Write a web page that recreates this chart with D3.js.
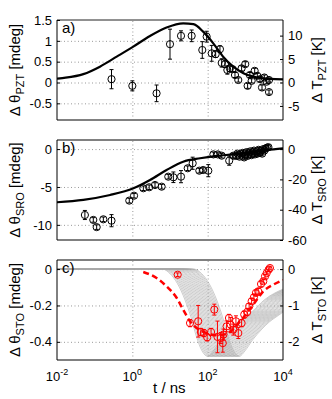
<!DOCTYPE html>
<html>
<head>
<meta charset="utf-8">
<script src="https://cdn.jsdelivr.net/npm/d3@7"></script>
<style>
body { margin: 0; background: #fff; }
text { font-family: "Liberation Sans", Arial, sans-serif; fill: #000; }
</style>
</head>
<body>
<div class="svg-target"></div>
<script>
// ---- data: panel a (PZT) ----
const pztT   = [0.28, 1.0, 4.4, 10, 19.6, 37.6, 72, 94, 128, 163, 212, 236, 288, 333, 390, 458, 531, 650, 796, 995, 1150, 1320, 1470, 1770, 2080, 2450, 2770, 3190, 3690, 4250, 4250];
const pztVal = [0.08, -0.08, -0.26, 0.92, 1.12, 1.12, 0.78, 1.1, 0.7, 0.68, 0.8, 0.47, 0.44, 0.3, 0.34, 0.32, 0.18, 0.06, 0.34, 0.44, -0.08, 0.18, 0.04, 0.28, 0.16, 0.08, -0.12, 0.12, 0.02, 0.06, -0.23];
const pztErr = [0.23, 0.12, 0.2, 0.36, 0.12, 0.14, 0.2, 0.13, 0.19, 0.08, 0.08, 0.1, 0.08, 0.1, 0.08, 0.06, 0.06, 0.05, 0.06, 0.06, 0.06, 0.06, 0.05, 0.06, 0.06, 0.06, 0.06, 0.06, 0.05, 0.05, 0.05];
const pztFitT   = [0.01, 0.012, 0.05, 0.138, 0.385, 1.06, 2.95, 8.1, 22.4, 41.7, 75.9, 141, 257, 479, 891, 1995, 4467, 10000];
const pztFitVal = [0.09, 0.10, 0.2, 0.38, 0.62, 0.86, 1.116, 1.32, 1.42, 1.40, 1.22, 0.94, 0.62, 0.38, 0.22, 0.125, 0.085, 0.077];

// ---- data: panel b (SRO) ----
const sroT   = [0.055, 0.092, 0.113, 0.17, 0.28, 0.83, 1.11, 1.96, 2.8, 4.0, 6.0, 9.0, 12.3, 19.6, 29.5, 40, 60, 76, 104, 142, 185, 236, 373, 478,
                560, 620, 700, 780, 850, 930, 1000, 1080, 1150, 1250, 1350, 1450, 1550, 1700, 1800, 1950, 2100, 2250, 2400, 2600, 2800, 3000, 3200, 3500, 3800, 4100];
const sroVal = [-8.7, -9.35, -10.3, -9.27, -9.45, -6.8, -6.15, -5.17, -5.04, -4.74, -4.96, -3.64, -3.72, -3.64, -2.53, -1.87, -2.85, -2.76, -2.85, -0.7, -0.7, -0.87, -1.53, -0.87,
                -0.9, -0.6, -1.0, -0.7, -0.5, -1.1, -0.8, -0.4, -0.9, -0.6, -0.3, -0.8, -0.5, -0.2, -0.7, -0.4, -0.6, -0.1, -0.5, -0.3, -0.6, 0.0, -0.2, 0.1, 0.2, 0.25];
const sroErr = [0.6, 0.3, 0.3, 0.3, 0.8, 0.3, 0.3, 0.3, 0.3, 0.3, 0.3, 0.3, 0.7, 0.8, 0.3, 0.8, 0.3, 0.3, 0.8, 0.3, 0.3, 0.3, 0.6, 0.3,
                0.3, 0.3, 0.3, 0.3, 0.3, 0.3, 0.3, 0.3, 0.3, 0.3, 0.3, 0.3, 0.3, 0.3, 0.3, 0.3, 0.3, 0.3, 0.3, 0.3, 0.3, 0.3, 0.3, 0.3, 0.3, 0.3];
const sroFitT   = [0.01, 0.05, 0.257, 1.07, 2.95, 8.1, 22.4, 63, 174, 479, 1318, 3715, 10000];
const sroFitVal = [-7.02, -6.7, -6.06, -5.17, -4.08, -2.76, -1.66, -1.21, -0.9, -0.69, -0.43, -0.12, 0.1];

// ---- data: panel c (STO) ----
const stoT   = [16, 34, 56, 66, 79, 97, 123, 150, 182, 223, 252, 262, 318, 368, 409, 480, 563, 650, 796, 935, 1120, 1260, 1470, 1690, 1910, 2200, 2610, 3000, 3330, 3690, 4170, 4500];
const stoVal = [-0.031, -0.297, -0.287, -0.346, -0.352, -0.375, -0.346, -0.223, -0.373, -0.379, -0.407, -0.36, -0.315, -0.269, -0.306, -0.333, -0.287, -0.352, -0.297, -0.25, -0.236, -0.205, -0.177, -0.155, -0.131, -0.122, -0.082, -0.067, -0.04, -0.022, -0.003, 0.006];
const stoErr = [0.01, 0.02, 0.087, 0.02, 0.02, 0.02, 0.02, 0.03, 0.087, 0.03, 0.05, 0.03, 0.03, 0.02, 0.04, 0.03, 0.03, 0.03, 0.02, 0.02, 0.02, 0.015, 0.015, 0.015, 0.015, 0.015, 0.015, 0.01, 0.01, 0.01, 0.01, 0.01];
const stoFitT   = [1.95, 4.4, 8.1, 15.1, 22.4, 33.9, 51, 93, 174, 316, 724, 1622, 3020, 5500, 10000];
const stoFitVal = [-0.016, -0.049, -0.095, -0.159, -0.223, -0.287, -0.324, -0.352, -0.364, -0.357, -0.287, -0.196, -0.122, -0.086, -0.06];
// grey model curves: one base shape, each curve delayed by a shift (decades)
const modelT   = [0.01, 6.3, 10, 15.8, 25.1, 35.5, 50.1, 70.8, 100, 141, 224, 398, 631, 1000, 1585, 3162, 10000];
const modelVal = [0, 0, -0.025, -0.08, -0.17, -0.26, -0.37, -0.45, -0.48, -0.45, -0.39, -0.33, -0.29, -0.26, -0.23, -0.17, -0.11];
const modelShift = [0, 0.035, 0.07, 0.105, 0.14, 0.175, 0.21, 0.245, 0.28, 0.315, 0.35, 0.385, 0.42, 0.455, 0.49, 0.525, 0.56, 0.595, 0.63, 0.665, 0.7, 0.735, 0.77, 0.805, 0.84];

// ticks
const xTicks = [0.01, 1, 100, 10000];
const xGrid = [1, 100];
const ticksA = [-0.5, 0, 0.5, 1, 1.5], ticksAR = [-5, 0, 5, 10];
const ticksB = [-10, -5, 0], ticksBR = [-60, -40, -20, 0];
const ticksC = [-0.4, -0.2, 0], ticksCR = [-2, -1, 0];

const W = 332, H = 399;
const left = 57, right = 283, panelH = 100;

const svg = d3.select('.svg-target')
    .append('svg')
    .attr('width', W)
    .attr('height', H);

const x = d3.scaleLog().domain([1e-2, 1e4]).range([left, right]);

const panels = [
    { id: 'a', top: 20, domL: [-0.9, 1.5], domR: [-8, 13.33], ticksL: ticksA, ticksR: ticksAR, sub: 'PZT', topColor: '#222', topW: 1 },
    { id: 'b', top: 140, domL: [-12, 1.2], domR: [-60, 6], ticksL: ticksB, ticksR: ticksBR, sub: 'SRO', topColor: '#808080', topW: 2 },
    { id: 'c', top: 260, domL: [-0.5, 0.05], domR: [-2.5, 0.25], ticksL: ticksC, ticksR: ticksCR, sub: 'STO', topColor: '#808080', topW: 2 }
];

// rotated label with a subscript
const yLabel = (g, cx, cy, pre, sub, post) => {
    const t = g.append('text')
        .attr('transform', `translate(${cx},${cy}) rotate(-90)`)
        .attr('text-anchor', 'middle')
        .style('font-size', '15px');
    t.append('tspan').text(pre);
    t.append('tspan').attr('dy', 4).style('font-size', '11px').text(sub);
    t.append('tspan').attr('dy', -4).text(post);
};

panels.forEach(p => {
    const g = svg.append('g');
    const bottom = p.top + panelH;
    const y = d3.scaleLinear().domain(p.domL).range([bottom, p.top]);
    const y2 = d3.scaleLinear().domain(p.domR).range([bottom, p.top]);

    svg.append('clipPath').attr('id', 'clip-' + p.id)
        .append('rect')
        .attr('x', left).attr('y', p.top)
        .attr('width', right - left).attr('height', panelH);

    // grid
    g.append('g')
        .attr('transform', `translate(0,${bottom})`)
        .call(d3.axisBottom(x).tickValues(xGrid).tickSize(-panelH).tickFormat(''))
        .call(s => s.select('.domain').remove());
    g.append('g')
        .attr('transform', `translate(${left},0)`)
        .call(d3.axisLeft(y).tickValues(p.ticksL.filter(v => y(v) > p.top + 1)).tickSize(-(right - left)).tickFormat(''))
        .call(s => s.select('.domain').remove());
    g.selectAll('.tick line')
        .attr('stroke', '#999')
        .attr('stroke-dasharray', '1,2.5');

    const plot = g.append('g').attr('clip-path', `url(#clip-${p.id})`);
    const line = d3.line().x(d => x(d[0])).y(d => y(d[1])).curve(d3.curveMonotoneX);

    let T, V, E, FT, FV, col;
    if (p.id === 'a') { T = pztT; V = pztVal; E = pztErr; FT = pztFitT; FV = pztFitVal; col = '#000'; }
    if (p.id === 'b') { T = sroT; V = sroVal; E = sroErr; FT = sroFitT; FV = sroFitVal; col = '#000'; }
    if (p.id === 'c') { T = stoT; V = stoVal; E = stoErr; FT = stoFitT; FV = stoFitVal; col = '#f00'; }

    if (p.id === 'c') {
        plot.selectAll('.model')
            .data(modelShift)
            .enter()
            .append('path')
                .attr('class', 'model')
                .attr('fill', 'none')
                .attr('stroke', '#aaa')
                .attr('stroke-width', 0.6)
                .attr('d', s => line(modelT.map((t, i) => [i === 0 ? t : t * Math.pow(10, s), modelVal[i]])));
        plot.append('path')
            .attr('fill', 'none')
            .attr('stroke', col)
            .attr('stroke-width', 2.5)
            .attr('stroke-dasharray', '6,3.5')
            .attr('d', line(FT.map((t, i) => [t, FV[i]])));
    } else {
        plot.append('path')
            .attr('fill', 'none')
            .attr('stroke', col)
            .attr('stroke-width', 2.2)
            .attr('d', line(FT.map((t, i) => [t, FV[i]])));
    }

    const pts = T.map((t, i) => ({ t: t, v: V[i], e: E[i] }));
    const eb = plot.selectAll('.eb').data(pts).enter().append('g').attr('class', 'eb')
        .attr('stroke', col).attr('stroke-width', 1);
    eb.append('line')
        .attr('x1', d => x(d.t)).attr('x2', d => x(d.t))
        .attr('y1', d => y(d.v - d.e)).attr('y2', d => y(d.v + d.e));
    eb.append('line')
        .attr('x1', d => x(d.t) - 2).attr('x2', d => x(d.t) + 2)
        .attr('y1', d => y(d.v - d.e)).attr('y2', d => y(d.v - d.e));
    eb.append('line')
        .attr('x1', d => x(d.t) - 2).attr('x2', d => x(d.t) + 2)
        .attr('y1', d => y(d.v + d.e)).attr('y2', d => y(d.v + d.e));
    plot.selectAll('circle').data(pts).enter().append('circle')
        .attr('cx', d => x(d.t))
        .attr('cy', d => y(d.v))
        .attr('r', 3.6)
        .attr('fill', 'none')
        .attr('stroke', col)
        .attr('stroke-width', 1);

    // box
    g.append('line').attr('x1', left).attr('x2', right).attr('y1', p.top).attr('y2', p.top)
        .attr('stroke', p.topColor).attr('stroke-width', p.topW);
    g.append('line').attr('x1', left).attr('x2', right).attr('y1', bottom).attr('y2', bottom)
        .attr('stroke', '#808080').attr('stroke-width', 2);

    // left axis
    const axL = g.append('g')
        .attr('transform', `translate(${left},0)`)
        .call(d3.axisLeft(y).tickValues(p.ticksL).tickSize(-3).tickPadding(5).tickFormat(d => String(d)));
    // right axis
    const axR = g.append('g')
        .attr('transform', `translate(${right},0)`)
        .call(d3.axisRight(y2).tickValues(p.ticksR).tickSize(-3).tickPadding(5).tickFormat(d => String(d)));
    [axL, axR].forEach(a => {
        a.select('.domain').attr('d', `M0,${p.top}V${bottom}`).attr('stroke', '#000');
        a.selectAll('text').style('font-size', '13px').attr('fill', '#000');
    });

    g.append('text')
        .attr('x', 62).attr('y', p.top + 13)
        .style('font-size', '15px')
        .text(p.id + ')');

    yLabel(g, 20, p.top + panelH / 2, 'Δ θ', p.sub, ' [mdeg]');
    yLabel(g, 322, p.top + panelH / 2, 'Δ T', p.sub, ' [K]');
});

// x tick labels on the bottom panel
const xl = svg.append('g');
xTicks.forEach(t => {
    const lab = xl.append('text')
        .attr('x', x(t)).attr('y', 381)
        .attr('text-anchor', 'middle')
        .style('font-size', '13px');
    lab.append('tspan').text('10');
    lab.append('tspan').attr('dy', -6).style('font-size', '9px').text(String(Math.round(Math.log10(t))));
});
svg.append('text')
    .attr('x', x(1) + 37).attr('y', 393)
    .attr('text-anchor', 'middle')
    .style('font-size', '15px')
    .text('t / ns');
</script>
</body>
</html>
